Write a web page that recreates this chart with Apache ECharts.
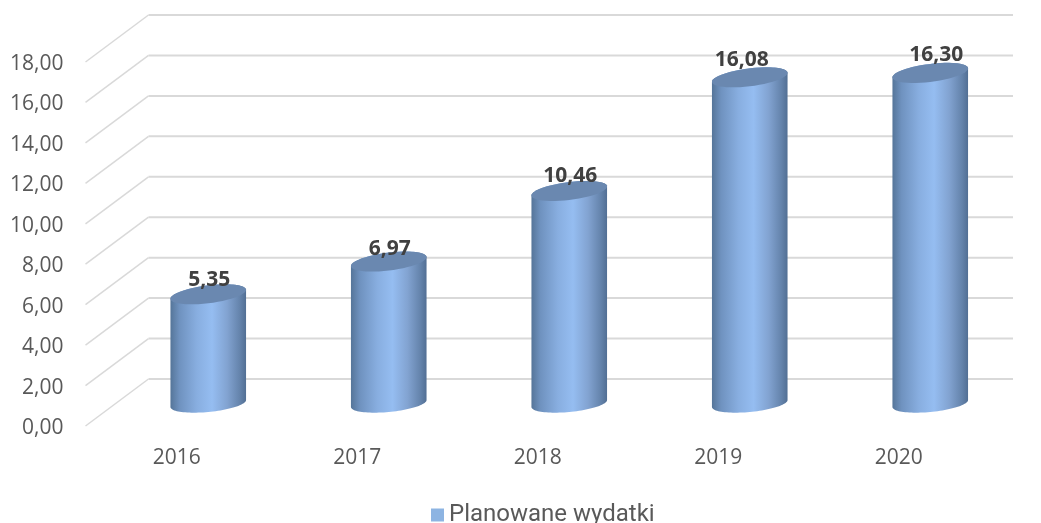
<!DOCTYPE html>
<html>
<head>
<meta charset="utf-8">
<style>
  html, body { margin: 0; padding: 0; background: #fff; overflow: hidden; }
  #chart { width: 1041px; height: 523px; }
</style>
<script src="https://cdn.jsdelivr.net/npm/echarts@6/dist/echarts.min.js"></script>
</head>
<body>
<div id="chart"></div>
<script>
const categories = ['2016', '2017', '2018', '2019', '2020'];
const plannedValues = [5.35, 6.97, 10.46, 16.08, 16.30];
const yTicks = [0, 2, 4, 6, 8, 10, 12, 14, 16, 18];
const seriesName = 'Planowane wydatki';

// fake 3D: how far the back wall sits from the front plane
const depthX = 63;
const depthY = 47;
const backRight = 1013;
// data labels are not quite centred in the original
const labelNudgeX = [1, 1, 1, -8, 6];
const labelNudgeY = [-14, -13, -15, -17, -18];

const gridColor = '#d9d9d9';
const textColor = '#595959';

function comma(v) {
  return v.toFixed(2).replace('.', ',');
}

function ellipsePoints(cx, cy, a, shear, b, from, to) {
  const pts = [];
  const steps = 48;
  for (let i = 0; i <= steps; i++) {
    const t = from + (to - from) * i / steps;
    pts.push([cx + a * Math.cos(t), cy - shear * Math.cos(t) + b * Math.sin(t)]);
  }
  return pts;
}

function renderWall(params, api) {
  const cs = params.coordSys;
  const y = api.coord([0, api.value(0)])[1];
  return {
    type: 'group',
    children: [
      {
        type: 'polyline',
        shape: { points: [[cs.x - 1, y], [cs.x - 1 + depthX, y - depthY]] },
        style: { stroke: gridColor, lineWidth: 1.5, fill: null }
      },
      {
        type: 'line',
        shape: { x1: cs.x - 1 + depthX, y1: y - depthY, x2: backRight, y2: y - depthY },
        style: { stroke: gridColor, lineWidth: 2 }
      },
      // tick label drawn here, axisLabel can't be moved down a couple of px
      {
        type: 'text',
        style: {
          text: comma(api.value(0)),
          x: cs.x - 23,
          y: y + 2,
          align: 'right',
          verticalAlign: 'middle',
          fill: textColor,
          font: '21px "Open Sans", sans-serif'
        }
      }
    ]
  };
}

function renderCylinder(params, api) {
  const idx = api.value(0);
  const top = api.coord([idx, api.value(1)]);
  const base = api.coord([idx, 0]);
  const cx = top[0] + depthX / 2;
  const topY = top[1] - depthY / 2;
  const baseY = base[1] - depthY / 2 + 1;
  const a = 37.8;

  const body = ellipsePoints(cx, baseY, a, 3.5, 8.5, 0, Math.PI);
  const topEdge = ellipsePoints(cx, topY, a, 4.5, 9, Math.PI, 2 * Math.PI);

  return {
    type: 'group',
    children: [
      {
        type: 'polygon',
        shape: { points: body.concat(topEdge) },
        style: {
          fill: new echarts.graphic.LinearGradient(0, 0, 1, 0, [
            { offset: 0, color: '#557599' },
            { offset: 0.12, color: '#6f92bf' },
            { offset: 0.35, color: '#88aee0' },
            { offset: 0.55, color: '#95bdf1' },
            { offset: 0.75, color: '#82a3d1' },
            { offset: 0.92, color: '#6483ab' },
            { offset: 1, color: '#526f94' }
          ])
        }
      },
      {
        type: 'polygon',
        shape: { points: ellipsePoints(cx, topY, a, 4.5, 9, 0, 2 * Math.PI) },
        style: { fill: '#6a88b0' }
      },
      {
        type: 'text',
        z2: 10,
        style: {
          text: comma(api.value(1)),
          x: cx + labelNudgeX[idx],
          y: topY + labelNudgeY[idx],
          align: 'center',
          verticalAlign: 'middle',
          fill: '#404040',
          font: 'bold 21px "Open Sans", sans-serif'
        }
      }
    ]
  };
}

const chart = echarts.init(document.getElementById('chart'), null, { renderer: 'canvas' });
chart.setOption({
  animation: false,
  backgroundColor: '#fff',
  grid: { left: 86.5, top: 62, width: 902.5, bottom: 97, containLabel: false },
  legend: {
    data: [{ name: seriesName, icon: 'rect' }],
    left: 431,
    top: 503,
    padding: 0,
    itemWidth: 13,
    itemHeight: 13,
    itemGap: 6,
    textStyle: { color: textColor, fontSize: 24, fontFamily: 'Roboto, sans-serif' }
  },
  xAxis: {
    type: 'category',
    data: categories,
    axisLine: { show: false },
    axisTick: { show: false },
    axisLabel: { color: textColor, fontSize: 21, margin: 22, fontFamily: '"Open Sans", sans-serif' }
  },
  yAxis: {
    type: 'value',
    min: 0,
    max: 18,
    interval: 2,
    axisLine: { show: false },
    axisTick: { show: false },
    splitLine: { show: false },
    axisLabel: { show: false }
  },
  series: [
    {
      name: 'wall',
      type: 'custom',
      renderItem: renderWall,
      data: yTicks.map(function (t) { return [t]; }),
      encode: { y: 0 },
      silent: true,
      z: 1
    },
    {
      name: seriesName,
      type: 'custom',
      renderItem: renderCylinder,
      itemStyle: { color: '#8db4e2' },
      data: plannedValues.map(function (v, i) { return [i, v]; }),
      encode: { x: 0, y: 1 },
      z: 2
    }
  ]
});
</script>
</body>
</html>
